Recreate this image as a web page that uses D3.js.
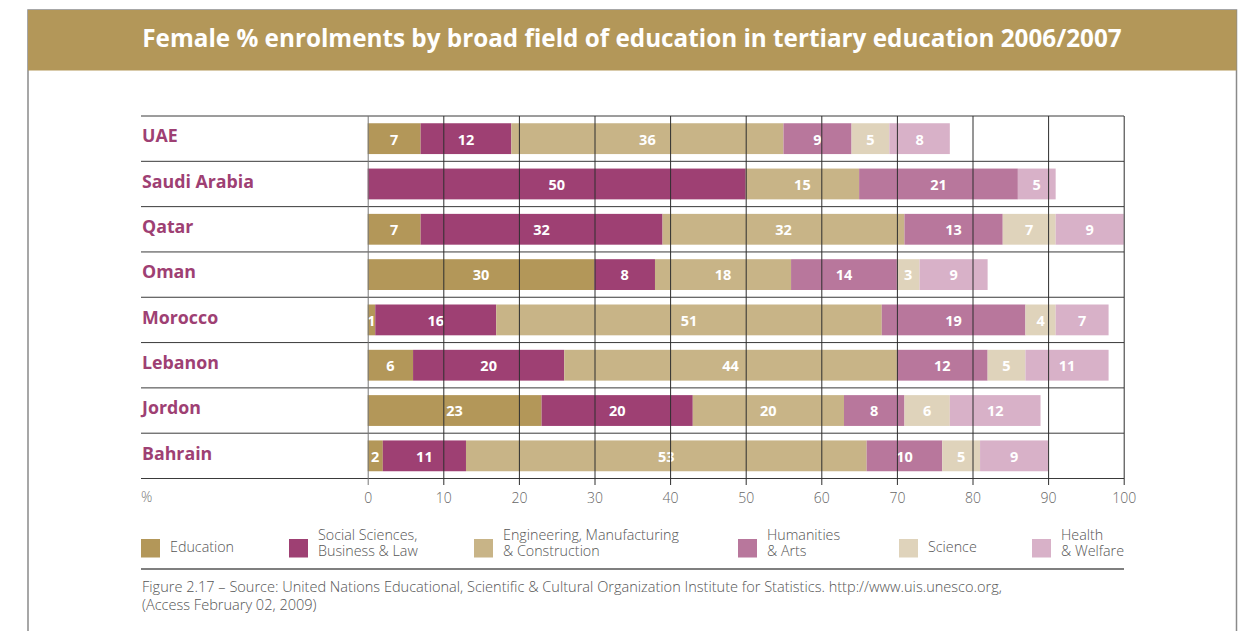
<!DOCTYPE html>
<html>
<head>
<meta charset="utf-8">
<script src="https://cdn.jsdelivr.net/npm/d3@7"></script>
<style>
  html, body { margin: 0; padding: 0; background: #fff; }
  svg { display: block; }
  text { font-family: "Open Sans", "Noto Sans", "DejaVu Sans", sans-serif; }
</style>
</head>
<body>
<svg id="chart" width="1254" height="631"></svg>
<script>
// ---- data ----
const countries = ["UAE", "Saudi Arabia", "Qatar", "Oman", "Morocco", "Lebanon", "Jordon", "Bahrain"];
const fields = ["Education", "Social Sciences", "Engineering", "Humanities", "Science", "Health"];
const education   = [7, 0, 7, 30, 1, 6, 23, 2];
const socialSci   = [12, 50, 32, 8, 16, 20, 20, 11];
const engineering = [36, 15, 32, 18, 51, 44, 20, 53];
const humanities  = [9, 21, 13, 14, 19, 12, 8, 10];
const science     = [5, 0, 7, 3, 4, 5, 6, 5];
const health      = [8, 5, 9, 9, 7, 11, 12, 9];
const tickValues  = [0, 10, 20, 30, 40, 50, 60, 70, 80, 90, 100];
const legendLabels = [
  ["Education"],
  ["Social Sciences,", "Business & Law"],
  ["Engineering, Manufacturing", "& Construction"],
  ["Humanities", "& Arts"],
  ["Science"],
  ["Health", "& Welfare"]
];
const titleText = "Female % enrolments by broad field of education in tertiary education 2006/2007";
const captionLines = [
  "Figure 2.17 \u2013 Source: United Nations Educational, Scientific & Cultural Organization Institute for Statistics. http://www.uis.unesco.org,",
  "(Access February 02, 2009)"
];

const colors = {
  "Education": "#b39759",
  "Social Sciences": "#9e4073",
  "Engineering": "#c8b487",
  "Humanities": "#b8779c",
  "Science": "#dfd3bb",
  "Health": "#d8b1c8"
};

const seriesByField = {
  "Education": education, "Social Sciences": socialSci, "Engineering": engineering,
  "Humanities": humanities, "Science": science, "Health": health
};
const rows = countries.map((c, i) => {
  const r = { country: c };
  fields.forEach(f => r[f] = seriesByField[f][i]);
  return r;
});

const svg = d3.select("#chart");

// helper: scale font so a text spans a given width
function fitWidth(sel, width) {
  const node = sel.node();
  const fs = parseFloat(sel.attr("font-size"));
  const w = node.getComputedTextLength();
  sel.attr("font-size", (fs * width / w).toFixed(2));
}

// ---- frame and title banner ----
svg.append("rect")
  .attr("x", 28).attr("y", 10).attr("width", 1208.5).attr("height", 640)
  .attr("fill", "none").attr("stroke", "#8a8a8a").attr("stroke-width", 1.5);
svg.append("rect")
  .attr("x", 28).attr("y", 10).attr("width", 1208.5).attr("height", 60.5)
  .attr("fill", "#b39759");
const title = svg.append("text")
  .attr("x", 632).attr("y", 40)
  .attr("text-anchor", "middle").attr("dominant-baseline", "middle")
  .attr("fill", "#fff").attr("font-weight", 700).attr("font-size", 24)
  .text(titleText);
fitWidth(title, 980);

// ---- scales ----
const x = d3.scaleLinear().domain([0, 100]).range([367.7, 1123.7]);
const y = d3.scaleBand().domain(countries).range([116, 478.5])
  .paddingInner(0.32).paddingOuter(0.16);
const step = y.step();

const stack = d3.stack().keys(fields);
const stacked = stack(rows);

// ---- row separators ----
svg.append("g").selectAll("line")
  .data(d3.range(countries.length + 1))
  .join("line")
  .attr("x1", 141).attr("x2", 1124)
  .attr("y1", i => 116 + i * step).attr("y2", i => 116 + i * step)
  .attr("stroke", "#3a3a3a").attr("stroke-width", 1);

// ---- bars ----
const layers = svg.append("g").selectAll("g")
  .data(stacked)
  .join("g")
  .attr("fill", d => colors[d.key]);

layers.selectAll("rect")
  .data(d => d.filter(s => s[1] - s[0] > 0))
  .join("rect")
  .attr("x", d => x(d[0]))
  .attr("width", d => x(d[1]) - x(d[0]))
  .attr("y", d => y(d.data.country))
  .attr("height", y.bandwidth());

// ---- gridlines and axis ----
const axis = d3.axisBottom(x).tickValues(tickValues).tickSize(-(485 - 116)).tickPadding(8);
const axisG = svg.append("g").attr("transform", "translate(0,485)").call(axis);
axisG.select(".domain").remove();
axisG.selectAll(".tick line")
  .attr("stroke", (d) => d === 0 ? "#777" : "#2e2e2e").attr("stroke-width", 1);
axisG.selectAll(".tick text")
  .attr("fill", "#666").attr("font-size", 14).attr("font-weight", 300)
  .attr("font-family", "\"Open Sans\", \"Noto Sans\", sans-serif");
svg.append("text")
  .attr("x", 141).attr("y", 498)
  .attr("dominant-baseline", "middle")
  .attr("fill", "#777").attr("font-size", 14).attr("font-weight", 300)
  .text("%");

// ---- value labels ----
layers.selectAll("text")
  .data(d => d.filter(s => s[1] - s[0] > 0).map(s => ({ s, key: d.key })))
  .join("text")
  .attr("x", d => (x(d.s[0]) + x(d.s[1])) / 2)
  .attr("y", d => y(d.s.data.country) + y.bandwidth() / 2 + 2)
  .attr("text-anchor", "middle").attr("dominant-baseline", "middle")
  .attr("fill", "#fff").attr("font-size", 14.5).attr("font-weight", 700)
  .text(d => d.s.data[d.key]);

// ---- country labels ----
svg.append("g").selectAll("text")
  .data(countries)
  .join("text")
  .attr("x", 142)
  .attr("y", c => y(c) + y.bandwidth() / 2 - 1)
  .attr("dominant-baseline", "middle")
  .attr("fill", "#9e4073").attr("font-size", 17.8).attr("font-weight", 700)
  .text(c => c);

// ---- legend ----
const legendX = [141, 289, 474, 738, 899, 1032];
const legend = svg.append("g").selectAll("g")
  .data(fields)
  .join("g")
  .attr("transform", (f, i) => `translate(${legendX[i]},539)`);
legend.append("rect")
  .attr("width", 19).attr("height", 18.5)
  .attr("fill", f => colors[f]);
legend.each(function(f, i) {
  const lines = legendLabels[i];
  const t = d3.select(this).append("text")
    .attr("x", 29).attr("fill", "#555").attr("font-size", 14.3).attr("font-weight", 300);
  lines.forEach((ln, j) => {
    const yy = lines.length === 1 ? 9.5 : (j === 0 ? -3 : 13.5);
    t.append("tspan").attr("x", 29).attr("y", yy)
      .attr("dominant-baseline", "middle").text(ln);
  });
});

// ---- footer ----
svg.append("line")
  .attr("x1", 141).attr("x2", 1124).attr("y1", 569).attr("y2", 569)
  .attr("stroke", "#555").attr("stroke-width", 1.5);
const cap1 = svg.append("text")
  .attr("x", 142).attr("y", 588)
  .attr("dominant-baseline", "middle")
  .attr("fill", "#555").attr("font-size", 13).attr("font-weight", 300)
  .text(captionLines[0]);
fitWidth(cap1, 860);
svg.append("text")
  .attr("x", 142).attr("y", 606)
  .attr("dominant-baseline", "middle")
  .attr("fill", "#555").attr("font-size", cap1.attr("font-size")).attr("font-weight", 300)
  .text(captionLines[1]);
</script>
</body>
</html>
